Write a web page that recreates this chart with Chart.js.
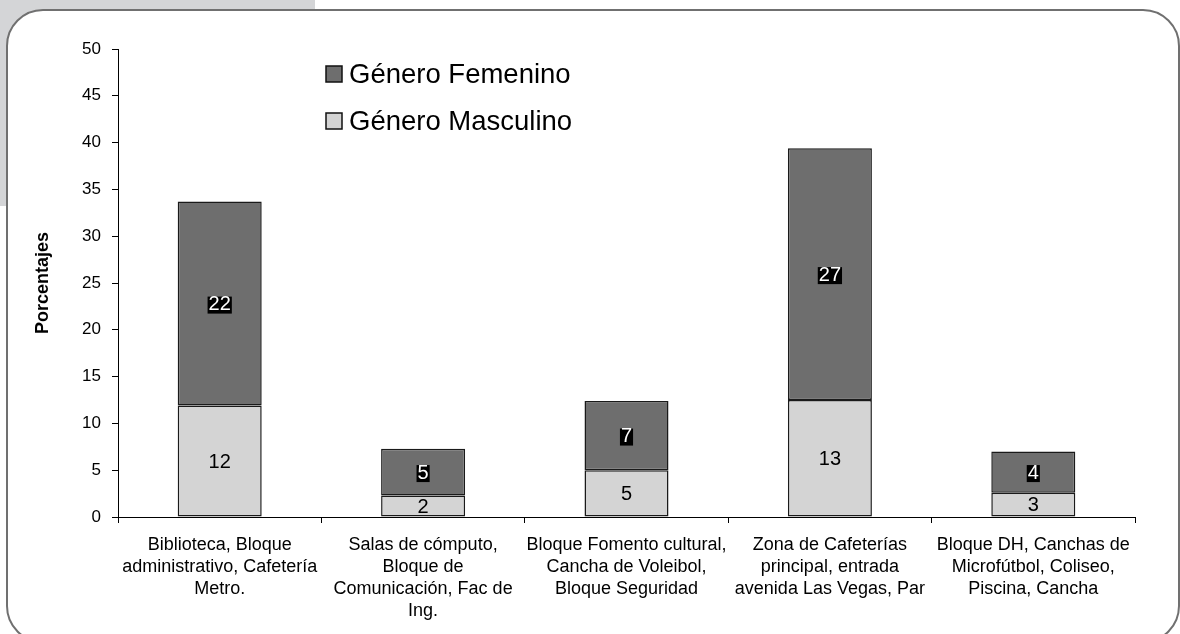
<!DOCTYPE html>
<html>
<head>
<meta charset="utf-8">
<script src="https://cdn.jsdelivr.net/npm/chart.js@4.4.1/dist/chart.umd.min.js"></script>
<style>
  html, body { margin: 0; padding: 0; background: #fff; }
  #wrap { width: 1180px; height: 634px; position: relative; }
</style>
</head>
<body>
<div id="wrap"><canvas id="chart" width="1180" height="634"></canvas></div>
<script>
// Zonas y porcentajes
const zones = [
  ['Biblioteca, Bloque', 'administrativo, Cafetería', 'Metro.'],
  ['Salas de cómputo,', 'Bloque de', 'Comunicación, Fac de', 'Ing.'],
  ['Bloque Fomento cultural,', 'Cancha de Voleibol,', 'Bloque Seguridad'],
  ['Zona de Cafeterías', 'principal, entrada', 'avenida Las Vegas, Par'],
  ['Bloque DH, Canchas de', 'Microfútbol, Coliseo,', 'Piscina, Cancha']
];
const masculino = [11.9, 2.3, 5.0, 12.5, 2.6];
const femenino = [21.8, 5.0, 7.4, 26.9, 4.4];
const yTicks = [0, 5, 10, 15, 20, 25, 30, 35, 40, 45, 50];

const FONT = 'Arial, "Liberation Sans", sans-serif';

// Page decoration: gray patch + rounded frame
const framePlugin = {
  id: 'frame',
  beforeDraw(chart) {
    const c = chart.ctx;
    c.save();
    c.fillStyle = '#fff';
    c.fillRect(0, 0, chart.width, chart.height);
    c.fillStyle = '#d4d5d7';
    c.fillRect(0, 0, 315, 10);
    c.fillRect(0, 0, 7, 206);
    c.fillRect(0, 0, 45, 48);
    // white inside the frame
    c.beginPath();
    c.roundRect(7, 10, 1172, 632, 36);
    c.fillStyle = '#fff';
    c.fill();
    c.lineWidth = 2;
    c.strokeStyle = '#707070';
    c.stroke();
    c.restore();
  }
};

// Value labels in each segment + legend
const labelsPlugin = {
  id: 'segLabels',
  afterDatasetsDraw(chart) {
    const c = chart.ctx;
    c.save();
    c.font = '20px ' + FONT;
    c.textAlign = 'center';
    c.textBaseline = 'middle';
    chart.data.datasets.forEach((ds, di) => {
      const meta = chart.getDatasetMeta(di);
      meta.data.forEach((bar, i) => {
        const txt = String(Math.round(ds.data[i]));
        const x = bar.x;
        const y = (bar.y + bar.base) / 2 + 1;
        if (ds.label === 'Género Femenino') {
          const w = c.measureText(txt).width;
          c.fillStyle = '#000';
          c.fillRect(x - w / 2 - 1, y - 8, w + 2, 17);
          c.fillStyle = '#fff';
        } else {
          c.fillStyle = '#000';
        }
        c.fillText(txt, x, y);
      });
    });

    // legend
    const items = [
      { text: 'Género Femenino', color: '#6e6e6e', y: 74 },
      { text: 'Género Masculino', color: '#d4d4d4', y: 121 }
    ];
    c.font = '27.5px ' + FONT;
    c.textAlign = 'left';
    items.forEach(it => {
      c.fillStyle = it.color;
      c.fillRect(326, it.y - 8, 16, 16);
      c.lineWidth = 1.5;
      c.strokeStyle = '#111';
      c.strokeRect(326, it.y - 8, 16, 16);
      c.fillStyle = '#000';
      c.fillText(it.text, 349, it.y + 1);
    });
    c.restore();
  }
};

new Chart(document.getElementById('chart'), {
  type: 'bar',
  data: {
    labels: zones,
    datasets: [
      {
        label: 'Género Masculino',
        data: masculino,
        backgroundColor: '#d4d4d4',
        borderColor: '#1a1a1a',
        borderWidth: 1.5,
        borderSkipped: false,
        categoryPercentage: 0.413,
        barPercentage: 1
      },
      {
        label: 'Género Femenino',
        data: femenino,
        backgroundColor: '#6e6e6e',
        borderColor: '#1a1a1a',
        borderWidth: 1.5,
        borderSkipped: false,
        categoryPercentage: 0.413,
        barPercentage: 1
      }
    ]
  },
  options: {
    responsive: false,
    animation: false,
    layout: { padding: { left: 0, right: 45, top: 49, bottom: 0 } },
    plugins: {
      legend: { display: false },
      tooltip: { enabled: false }
    },
    scales: {
      x: {
        stacked: true,
        grid: { offset: true, drawOnChartArea: false, tickLength: 6, color: '#000' },
        border: { color: '#000', width: 1 },
        ticks: {
          color: '#000',
          font: { family: FONT, size: 18, lineHeight: 1.22 },
          maxRotation: 0,
          autoSkip: false,
          padding: 11
        },
        afterFit(s) { s.height = 117; }
      },
      y: {
        stacked: true,
        min: 0,
        max: 50,
        afterBuildTicks(s) { s.ticks = yTicks.map(v => ({ value: v })); },
        grid: { drawOnChartArea: false, tickLength: 6, color: '#000' },
        border: { color: '#000', width: 1 },
        ticks: {
          color: '#000',
          font: { family: FONT, size: 17 },
          padding: 11
        },
        title: {
          display: true,
          text: 'Porcentajes',
          color: '#000',
          font: { family: FONT, size: 18, weight: 'bold' },
          padding: { top: 32, bottom: 0 }
        },
        afterFit(s) { s.width = 118; }
      }
    }
  },
  plugins: [framePlugin, labelsPlugin]
});
</script>
</body>
</html>
